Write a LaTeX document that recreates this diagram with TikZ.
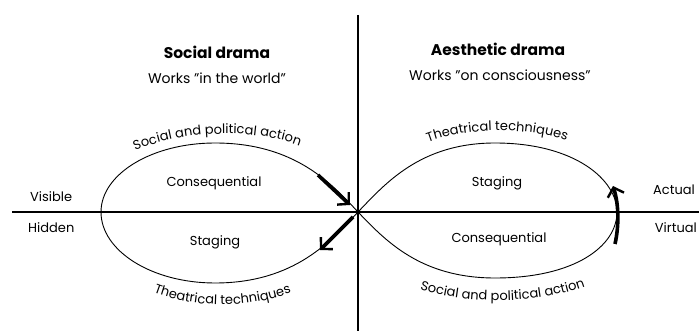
\documentclass[tikz,border=0pt]{standalone}
\usepackage{fontspec}
\setmainfont{Poppins}
\usetikzlibrary{arrows.meta,decorations.text}
\newcommand{\labfont}{\fontsize{13}{15}\selectfont}
\begin{document}
\begin{tikzpicture}[x=1pt,y=-1pt,
    every node/.style={font=\labfont, inner sep=1pt},
    title/.style={font=\fontsize{15.5}{18}\selectfont\bfseries},
    works/.style={font=\fontsize{14}{16}\selectfont},
    loop/.style={line width=0.9pt},
    axis/.style={line width=1.1pt},
    bigarrow/.style={line width=3.6pt,-{Straight Barb[length=8pt,width=17pt,line width=2.4pt]}},
    arctext/.style={decorate, decoration={text along path, text align=center, text={|\labfont|#1}}}]
  \useasboundingbox (0,0) rectangle (699,331);
  % axes
  \node[circle, fill, inner sep=1.8pt] (O) at (358,212) {};
  \coordinate (top) at (358,15);
  \coordinate (bottom) at (358,331);
  \coordinate (west) at (12,212);
  \coordinate (east) at (699,212);
  \draw[axis] (top) -- (bottom);
  \draw[axis] (west) -- (east);
  % the two loops
  \draw[loop] (O.center) .. controls (332,184) and (295,143) .. (215,143)
    .. controls (152,143) and (101,174) .. (101,212)
    .. controls (101,251) and (152,283) .. (215,283)
    .. controls (295,283) and (332,240) .. (O.center);
  \draw[loop] (O.center) .. controls (385,184) and (420,143) .. (495,143)
    .. controls (575,143) and (617,180) .. (617,212)
    .. controls (617,246) and (575,278) .. (495,278)
    .. controls (420,278) and (385,240) .. (O.center);
  % arrows on the loops
  \coordinate (a1) at (318,175);
  \coordinate (a2) at (350,205);
  \coordinate (b1) at (353,217);
  \coordinate (b2) at (320,250);
  \coordinate (c1) at (615,244);
  \coordinate (c2) at (613,186);
  \draw[bigarrow] (a1) -- (a2);
  \draw[bigarrow] (b1) -- (b2);
  \draw[bigarrow] (c1) .. controls (619,226) and (619,205) .. (c2);
  % headings
  \node[title] (socT) at (217,52) {Social drama};
  \node[works] (socW) at (217,78) {Works ''in the world''};
  \node[title] (aesT) at (498,49) {Aesthetic drama};
  \node[works] (aesW) at (500,75) {Works ''on consciousness''};
  % side labels
  \node[anchor=west] (vis) at (29,197) {Visible};
  \node[anchor=west] (hid) at (27,228) {Hidden};
  \node[anchor=east] (act) at (696,190) {Actual};
  \node[anchor=east] (vir) at (698,228) {Virtual};
  % inside the loops
  \node (lcons) at (214,183) {Consequential};
  \node (lstag) at (215,242) {Staging};
  \node (rstag) at (497,183) {Staging};
  \node (rcons) at (499,239) {Consequential};
  % texts along the loops
  \path[arctext={Social and political action}] (122,157) .. controls (175,128) and (265,126) .. (313,152);
  \path[arctext={Theatrical techniques}] (143,288) .. controls (190,310) and (255,310) .. (302,288);
  \path[arctext={Theatrical techniques}] (415,148) .. controls (460,125) and (535,125) .. (580,146);
  \path[arctext={Social and political action}] (402,282) .. controls (455,307) and (545,307) .. (603,279);
\end{tikzpicture}
\end{document}
